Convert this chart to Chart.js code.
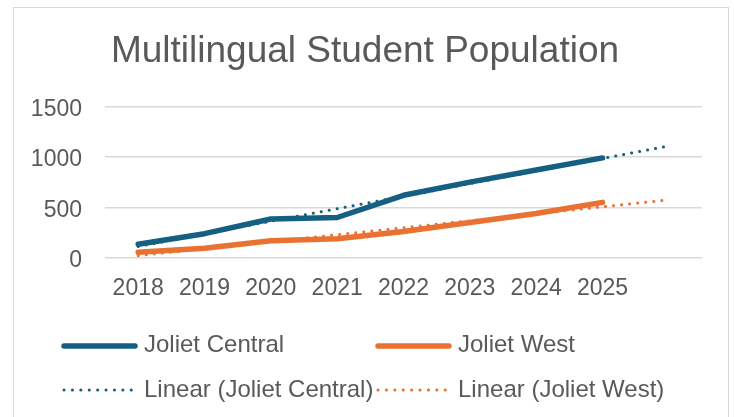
<!DOCTYPE html>
<html>
<head>
<meta charset="utf-8">
<script src="https://cdn.jsdelivr.net/npm/chart.js@4"></script>
<style>
  html, body { margin: 0; padding: 0; background: #fff; overflow: hidden; }
  #wrap { position: relative; width: 734px; height: 417px; }
  #frame {
    position: absolute; left: 13px; top: 7px; width: 714px; height: 430px;
    border: 1px solid #d9d9d9; pointer-events: none;
  }
  canvas { position: absolute; left: 0; top: 0; }
</style>
</head>
<body>
<div id="wrap">
  <canvas id="chart" width="734" height="417"></canvas>
  <div id="frame"></div>
</div>
<script>
// values
const YEARS = ['2018', '2019', '2020', '2021', '2022', '2023', '2024', '2025'];
const CATEGORY_LABELS = [...YEARS, '']; // blank slot the trendlines run into
const JOLIET_CENTRAL = [135, 240, 385, 400, 620, 750, 870, 990];
const JOLIET_WEST = [55, 95, 170, 190, 262, 350, 440, 550];
const Y_TICKS = [0, 500, 1000, 1500];

const BLUE = '#156082';
const ORANGE = '#E97132';
const TEXT = '#595959';
const FONT = "'Liberation Sans', Arial, sans-serif";

Chart.defaults.font.family = FONT;
Chart.defaults.color = TEXT;

// least squares line, same as an Excel "Linear" trendline, forward 1 period
function linearTrend(values, length) {
  const n = values.length;
  let mx = 0, my = 0;
  for(let i=0; i<n; ++i) { mx += i; my += values[i]; }
  mx /= n; my /= n;
  let num = 0, den = 0;
  for(let i=0; i<n; ++i) {
    num += (i - mx) * (values[i] - my);
    den += (i - mx) * (i - mx);
  }
  const slope = num / den;
  const intercept = my - slope * mx;
  return Array.from({length: length}, (_, i) => intercept + slope * i);
}

// excel style legend, two fixed columns
const LEGEND_ITEMS = [
  {text: 'Joliet Central', color: BLUE, dotted: false, col: 0, row: 0},
  {text: 'Joliet West', color: ORANGE, dotted: false, col: 1, row: 0},
  {text: 'Linear (Joliet Central)', color: BLUE, dotted: true, col: 0, row: 1},
  {text: 'Linear (Joliet West)', color: ORANGE, dotted: true, col: 1, row: 1}
];

const legendPlugin = {
  id: 'gridLegend',
  afterDraw(chart) {
    const ctx = chart.ctx;
    const colX = [62, 376];
    const rowY = [345, 390];
    ctx.save();
    ctx.font = '24px ' + FONT;
    ctx.textBaseline = 'middle';
    ctx.fillStyle = TEXT;
    for(let item of LEGEND_ITEMS) {
      const x = colX[item.col];
      const y = rowY[item.row];
      ctx.beginPath();
      ctx.strokeStyle = item.color;
      ctx.lineCap = 'round';
      if(item.dotted) {
        ctx.lineWidth = 3;
        ctx.setLineDash([0.1, 8.3]);
        ctx.moveTo(x + 2, y);
        ctx.lineTo(x + 72, y);
      } else {
        ctx.lineWidth = 5.5;
        ctx.setLineDash([]);
        ctx.moveTo(x + 2, y + 1);
        ctx.lineTo(x + 73, y + 1);
      }
      ctx.stroke();
      ctx.setLineDash([]);
      ctx.fillText(item.text, x + 82, y + 0.5);
    }
    ctx.restore();
  }
};

const solid = (label, data, color) => ({
  label: label,
  data: data,
  borderColor: color,
  backgroundColor: color,
  borderWidth: 5.5,
  borderCapStyle: 'round',
  borderJoinStyle: 'round',
  pointRadius: 0,
  tension: 0,
  order: 1
});

const trend = (label, data, color) => ({
  label: label,
  data: data,
  borderColor: color,
  backgroundColor: color,
  borderWidth: 3,
  borderDash: [0.1, 8],
  borderCapStyle: 'round',
  pointRadius: 0,
  tension: 0,
  order: 0
});

new Chart(document.getElementById('chart'), {
  type: 'line',
  data: {
    labels: CATEGORY_LABELS,
    datasets: [
      solid('Joliet Central', JOLIET_CENTRAL, BLUE),
      solid('Joliet West', JOLIET_WEST, ORANGE),
      trend('Linear (Joliet Central)', linearTrend(JOLIET_CENTRAL, CATEGORY_LABELS.length), BLUE),
      trend('Linear (Joliet West)', linearTrend(JOLIET_WEST, CATEGORY_LABELS.length), ORANGE)
    ]
  },
  options: {
    responsive: false,
    animation: false,
    devicePixelRatio: 1,
    layout: {
      padding: {left: 28, right: 32, top: 0, bottom: 97.5}
    },
    plugins: {
      legend: {display: false},
      tooltip: {enabled: false},
      title: {
        display: true,
        text: 'Multilingual Student Population',
        color: TEXT,
        font: {size: 37, weight: 'normal', family: FONT},
        padding: {top: 30, bottom: 32}
      }
    },
    scales: {
      x: {
        offset: true,
        grid: {display: false, drawTicks: false},
        border: {display: false},
        ticks: {
          color: TEXT,
          font: {size: 23},
          padding: 17,
          maxRotation: 0,
          autoSkip: false
        }
      },
      y: {
        min: 0,
        max: 1500,
        afterBuildTicks(scale) {
          scale.ticks = Y_TICKS.map(v => ({value: v}));
        },
        afterFit(scale) {
          scale.width = 77;
        },
        grid: {color: '#d9d9d9', lineWidth: 1.5, drawTicks: false},
        border: {display: false},
        ticks: {
          color: TEXT,
          font: {size: 23},
          padding: 23,
          labelOffset: 3,
          callback: (value) => String(value)
        }
      }
    }
  },
  plugins: [legendPlugin]
});
</script>
</body>
</html>
